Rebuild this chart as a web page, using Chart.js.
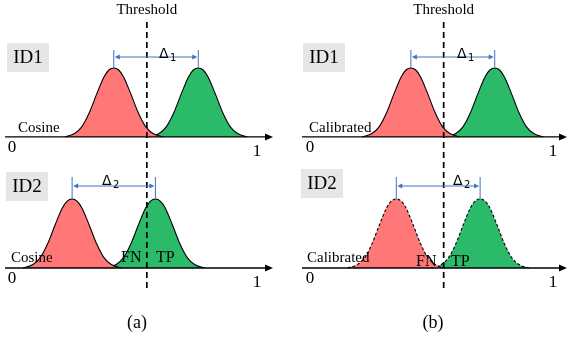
<!DOCTYPE html>
<html lang="en">
<head>
<meta charset="UTF-8">
<title>Threshold</title>
<script src="https://cdn.jsdelivr.net/npm/chart.js"></script>
<style>
  body { margin: 0; background: #fff; }
  .figura { position: relative; width: 567px; height: 341px; overflow: hidden; }
  canvas { position: absolute; top: 0; }
  #chartA { left: 0; }
  #chartB { left: 285px; }
</style>
</head>
<body>
<div class="figura">
  <canvas id="chartA" width="285" height="341"></canvas>
  <canvas id="chartB" width="282" height="341"></canvas>
</div>
<script>
// heights of one bell (share of the peak)
const bellHeights = [0, 0.05, 0.15, 0.35, 0.62, 0.87, 0.97, 1, 0.97, 0.87, 0.62, 0.35, 0.15, 0.05, 0];

// x positions of each bell (0 .. 1 on the similarity axis)
const aId1Red   = [0.215, 0.255, 0.285, 0.315, 0.345, 0.375, 0.395, 0.415, 0.435, 0.455, 0.485, 0.515, 0.545, 0.575, 0.615];
const aId1Green = [0.56, 0.60, 0.63, 0.66, 0.69, 0.72, 0.74, 0.76, 0.78, 0.80, 0.83, 0.86, 0.89, 0.92, 0.96];
const aId2Red   = [0.045, 0.085, 0.115, 0.145, 0.175, 0.205, 0.225, 0.245, 0.265, 0.285, 0.315, 0.345, 0.375, 0.405, 0.445];
const aId2Green = [0.385, 0.425, 0.455, 0.485, 0.515, 0.545, 0.565, 0.585, 0.605, 0.625, 0.655, 0.685, 0.715, 0.745, 0.785];
const bId1Red   = [0.215, 0.255, 0.285, 0.315, 0.345, 0.375, 0.395, 0.415, 0.435, 0.455, 0.485, 0.515, 0.545, 0.575, 0.615];
const bId1Green = [0.56, 0.60, 0.63, 0.66, 0.69, 0.72, 0.74, 0.76, 0.78, 0.80, 0.83, 0.86, 0.89, 0.92, 0.96];
const bId2Red   = [0.155, 0.195, 0.225, 0.255, 0.285, 0.315, 0.335, 0.355, 0.375, 0.395, 0.425, 0.455, 0.485, 0.515, 0.555];
const bId2Green = [0.50, 0.54, 0.57, 0.60, 0.63, 0.66, 0.68, 0.70, 0.72, 0.74, 0.77, 0.80, 0.83, 0.86, 0.90];

const threshold = 0.55;
const axisTicks = [0, 1];
const idLabels = ['ID1', 'ID2'];
const deltaLabels = ['1', '2'];

const VERMELHO = '#FF7777';
const VERDE = '#2BBA6A';
const AZUL = '#4472C4';
const SERIF = '"Liberation Serif", "Times New Roman", serif';

function curva(xs, cor, eixo, tracejado) {
    return {
        data: xs.map((x, i) => ({ x: x, y: bellHeights[i] })),
        yAxisID: eixo,
        borderColor: '#000',
        borderWidth: 1.1,
        borderDash: tracejado ? [3, 2] : [],
        backgroundColor: cor,
        fill: 'origin',
        pointRadius: 0,
        cubicInterpolationMode: 'monotone',
        clip: false
    };
}

function picoX(xs) {
    return xs[bellHeights.indexOf(1)];
}

const figuraPlugin = {
    id: 'figura',
    afterDatasetsDraw(chart, args, o) {
        const ctx = chart.ctx;
        const area = chart.chartArea;
        const sx = chart.scales.x;
        const eixos = [chart.scales.yt, chart.scales.yb];
        ctx.save();

        // eixos com seta
        eixos.forEach(function (sy) {
            const py = sy.getPixelForValue(0);
            ctx.strokeStyle = '#000';
            ctx.lineWidth = 1.3;
            ctx.setLineDash([]);
            ctx.beginPath();
            ctx.moveTo(area.left, py);
            ctx.lineTo(area.right - 6, py);
            ctx.stroke();
            ctx.fillStyle = '#000';
            ctx.beginPath();
            ctx.moveTo(area.right, py);
            ctx.lineTo(area.right - 8, py - 3.5);
            ctx.lineTo(area.right - 8, py + 3.5);
            ctx.closePath();
            ctx.fill();
        });

        // linha do threshold
        const tx = sx.getPixelForValue(threshold);
        ctx.strokeStyle = '#000';
        ctx.lineWidth = 1.7;
        ctx.setLineDash([6, 4]);
        ctx.beginPath();
        ctx.moveTo(tx, 22);
        ctx.lineTo(tx, 292);
        ctx.stroke();
        ctx.setLineDash([]);

        ctx.fillStyle = '#000';
        ctx.font = '15px ' + SERIF;
        ctx.textAlign = 'center';
        ctx.textBaseline = 'alphabetic';
        ctx.fillText('Threshold', tx, 14);

        // caixas ID
        o.caixas.forEach(function (c, i) {
            ctx.fillStyle = '#E7E6E6';
            ctx.fillRect(c[0], c[1], 42, 29);
            ctx.fillStyle = '#000';
            ctx.font = '19px ' + SERIF;
            ctx.textAlign = 'center';
            ctx.textBaseline = 'middle';
            ctx.fillText(idLabels[i], c[0] + 21, c[1] + 15.5);
        });

        // 0 e 1
        eixos.forEach(function (sy, i) {
            const py = sy.getPixelForValue(0);
            ctx.font = '17px ' + SERIF;
            ctx.textAlign = 'center';
            ctx.textBaseline = 'middle';
            ctx.fillText(String(axisTicks[0]), sx.getPixelForValue(axisTicks[0]), py + 11);
            ctx.fillText(String(axisTicks[1]), sx.getPixelForValue(axisTicks[1]), py + 15);
        });

        // nome da medida
        ctx.font = '15px ' + SERIF;
        ctx.textAlign = 'left';
        ctx.textBaseline = 'alphabetic';
        o.medida.forEach(function (m) {
            ctx.fillText(o.nome, m[0], m[1]);
        });

        // FN / TP
        ctx.font = '16px ' + SERIF;
        ctx.fillText('FN', o.fntp[0], o.fntp[2]);
        ctx.fillText('TP', o.fntp[1], o.fntp[2]);

        // setas delta
        o.deltas.forEach(function (d, i) {
            const sy = eixos[i];
            const x1 = sx.getPixelForValue(d.de);
            const x2 = sx.getPixelForValue(d.ate);
            const pico = sy.getPixelForValue(1);
            ctx.strokeStyle = AZUL;
            ctx.fillStyle = AZUL;
            ctx.lineWidth = 1;
            ctx.beginPath();
            ctx.moveTo(x1, d.topo); ctx.lineTo(x1, pico);
            ctx.moveTo(x2, d.topo); ctx.lineTo(x2, pico);
            ctx.moveTo(x1 + 4, d.y); ctx.lineTo(x2 - 4, d.y);
            ctx.stroke();
            ctx.beginPath();
            ctx.moveTo(x1 + 1, d.y); ctx.lineTo(x1 + 6, d.y - 2.5); ctx.lineTo(x1 + 6, d.y + 2.5); ctx.closePath();
            ctx.moveTo(x2 - 1, d.y); ctx.lineTo(x2 - 6, d.y - 2.5); ctx.lineTo(x2 - 6, d.y + 2.5); ctx.closePath();
            ctx.fill();

            ctx.fillStyle = '#000';
            ctx.textAlign = 'left';
            ctx.textBaseline = 'alphabetic';
            ctx.font = '14px "DejaVu Sans", sans-serif';
            ctx.fillText('\u0394', d.rotulo[0], d.rotulo[1]);
            ctx.font = '10px "DejaVu Sans", sans-serif';
            ctx.fillText(deltaLabels[i], d.rotulo[0] + 11, d.rotulo[1] + 3);
        });

        // (a) / (b)
        ctx.font = '18px ' + SERIF;
        ctx.textAlign = 'center';
        ctx.textBaseline = 'middle';
        ctx.fillText(o.legenda, o.legendaX, 323);
        ctx.restore();
    }
};

function painel(id, cfg) {
    return new Chart(document.getElementById(id), {
        type: 'line',
        data: {
            datasets: [
                curva(cfg.topo[0], VERMELHO, 'yt', false),
                curva(cfg.topo[1], VERDE, 'yt', false),
                curva(cfg.baixo[0], VERMELHO, 'yb', cfg.tracejado),
                curva(cfg.baixo[1], VERDE, 'yb', cfg.tracejado)
            ]
        },
        options: {
            responsive: false,
            animation: false,
            layout: { padding: cfg.padding },
            plugins: {
                legend: { display: false },
                tooltip: { enabled: false },
                figura: cfg.figura
            },
            scales: {
                x: { type: 'linear', min: cfg.xMin, max: cfg.xMax, display: false },
                yt: { type: 'linear', min: -1.899, max: 1.086, display: false },
                yb: { type: 'linear', min: 0, max: 2.985, display: false }
            }
        },
        plugins: [figuraPlugin]
    });
}

painel('chartA', {
    topo: [aId1Red, aId1Green],
    baixo: [aId2Red, aId2Green],
    tracejado: false,
    padding: { left: 5, right: 12, top: 62, bottom: 73 },
    xMin: -0.029, xMax: 1.065,
    figura: {
        caixas: [[7, 43], [6, 172]],
        nome: 'Cosine',
        medida: [[18, 132], [11, 262]],
        fntp: [121, 156, 262],
        deltas: [
            { de: picoX(aId1Red), ate: picoX(aId1Green), topo: 50, y: 57, rotulo: [159, 58] },
            { de: picoX(aId2Red), ate: picoX(aId2Green), topo: 177, y: 186, rotulo: [102, 185] }
        ],
        legenda: '(a)', legendaX: 137
    }
});

painel('chartB', {
    topo: [bId1Red, bId1Green],
    baixo: [bId2Red, bId2Green],
    tracejado: true,
    padding: { left: 17, right: 0, top: 62, bottom: 73 },
    xMin: -0.033, xMax: 1.0575,
    figura: {
        caixas: [[18, 43], [16, 169]],
        nome: 'Calibrated',
        medida: [[24, 132], [22, 262]],
        fntp: [131, 166, 266],
        deltas: [
            { de: picoX(bId1Red), ate: picoX(bId1Green), topo: 50, y: 57, rotulo: [172, 58] },
            { de: picoX(bId2Red), ate: picoX(bId2Green), topo: 177, y: 186, rotulo: [168, 185] }
        ],
        legenda: '(b)', legendaX: 148
    }
});
</script>
</body>
</html>
